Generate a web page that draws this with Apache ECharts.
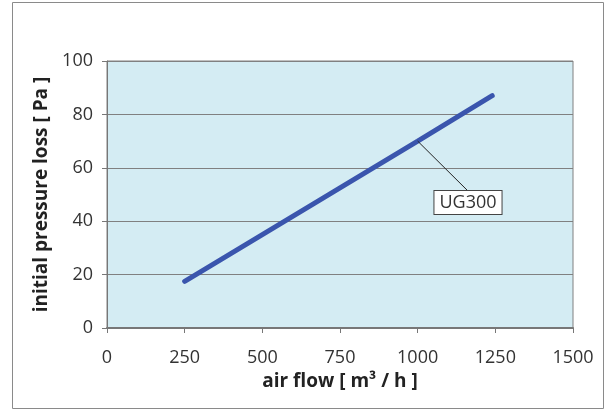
<!DOCTYPE html>
<html><head><meta charset="utf-8">
<script src="https://cdn.jsdelivr.net/npm/echarts@6/dist/echarts.min.js"></script>
<style>html,body{margin:0;padding:0;background:#fff}#c{width:610px;height:411px}</style>
</head><body><div id="c"></div>
<script>
const airFlow = [250, 500, 750, 1000, 1240];
const pressureLoss = [17.5, 35, 52.5, 70, 87];
const seriesName = 'UG300';
// leader line for the series label: from a point on the curve to the label anchor (data units)
const leaderX = [1000, 1162];
const leaderY = [70, 51.3];
const xTicks = [0, 250, 500, 750, 1000, 1250, 1500];
const yTicks = [0, 20, 40, 60, 80, 100];

const FONT = '"Open Sans", "Noto Sans", sans-serif';
const chart = echarts.init(document.getElementById('c'), null, {renderer: 'canvas'});
chart.setOption({
  animation: false,
  graphic: [{
    type: 'rect', shape: {x: 12.5, y: 2.5, width: 591, height: 406},
    style: {fill: 'none', stroke: '#8a8a8a', lineWidth: 1}, silent: true, z: -10
  }],
  grid: {left: 107, right: 37, top: 61, bottom: 83, show: true, backgroundColor: '#d4ecf3', borderColor: '#808080', borderWidth: 1},
  xAxis: {
    type: 'value', min: xTicks[0], max: xTicks[xTicks.length - 1], interval: 250,
    name: 'air flow [ m³ / h ]', nameLocation: 'middle', nameGap: 42,
    nameTextStyle: {fontFamily: FONT, fontSize: 19, fontWeight: 'bold', color: '#222'},
    axisLine: {show: true, lineStyle: {color: '#777', width: 2}},
    axisTick: {show: true, length: 5, lineStyle: {color: '#777'}},
    axisLabel: {fontFamily: FONT, fontSize: 18, color: '#333', margin: 21, formatter: v => String(v)},
    splitLine: {show: false}
  },
  yAxis: {
    type: 'value', min: yTicks[0], max: yTicks[yTicks.length - 1], interval: 20,
    name: 'initial pressure loss [ Pa ]', nameLocation: 'middle', nameGap: 55,
    nameTextStyle: {fontFamily: FONT, fontSize: 19, fontWeight: 'bold', color: '#222'},
    axisLine: {show: true, lineStyle: {color: '#777', width: 1}},
    axisTick: {show: true, length: 5, lineStyle: {color: '#777'}},
    axisLabel: {fontFamily: FONT, fontSize: 18, color: '#333', margin: 14, formatter: v => String(v)},
    splitLine: {show: true, lineStyle: {color: '#808080', width: 1}}
  },
  series: [{
    type: 'line', name: seriesName,
    data: airFlow.map((x, i) => [x, pressureLoss[i]]),
    showSymbol: false,
    lineStyle: {color: '#3a55ad', width: 5, cap: 'round'},
    z: 3
  }, {
    type: 'line', name: seriesName + ' label',
    data: leaderX.map((x, i) => ({
      value: [x, leaderY[i]],
      label: {show: i === 1}
    })),
    symbol: 'circle', symbolSize: 0.01, showSymbol: true,
    itemStyle: {color: '#222'},
    lineStyle: {color: '#222', width: 1},
    label: {
      show: false, position: 'bottom', distance: 0, formatter: seriesName,
      fontFamily: FONT, fontSize: 18, color: '#333',
      backgroundColor: '#fff', borderColor: '#444', borderWidth: 1, padding: [3, 5, 2, 5]
    },
    z: 4
  }]
});
</script></body></html>
